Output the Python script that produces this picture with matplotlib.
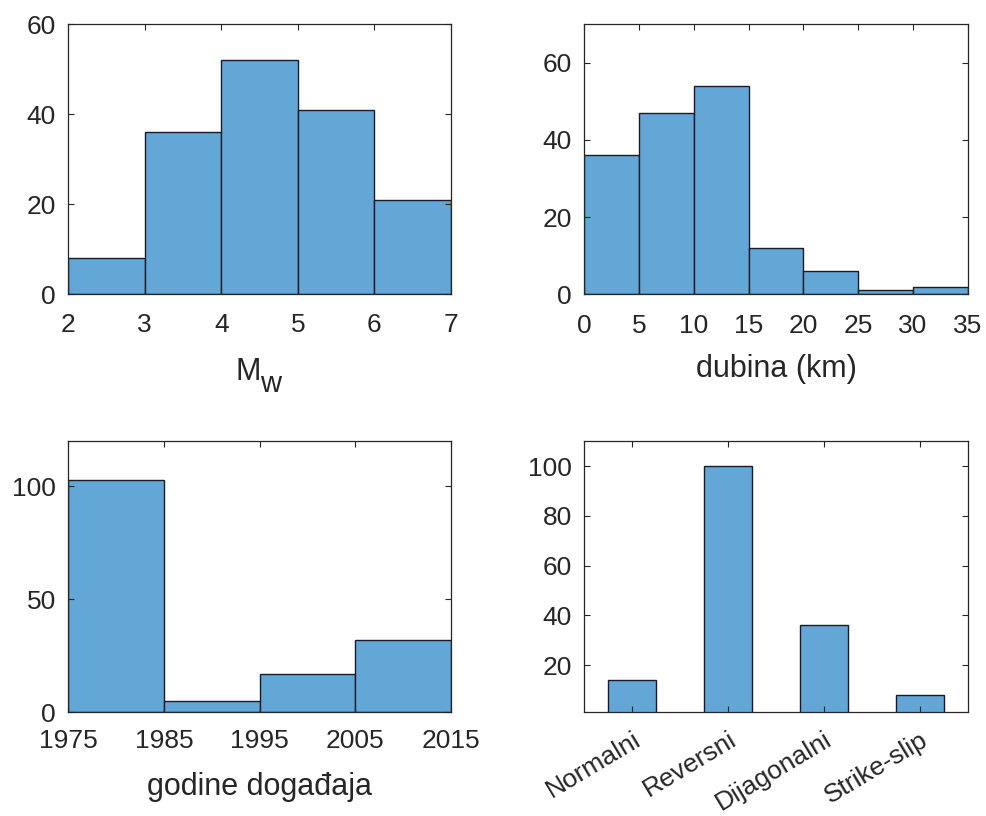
import numpy as np
import matplotlib
matplotlib.use("Agg")
import matplotlib.pyplot as plt

plt.rcParams['font.family'] = ['Liberation Sans', 'DejaVu Sans']

# Data
mw_edges = [2, 3, 4, 5, 6, 7]
mw_counts = [8, 36, 52, 41, 21]
depth_edges = [0, 5, 10, 15, 20, 25, 30, 35]
depth_counts = [36, 47, 54, 12, 6, 1, 2]
year_edges = [1975, 1985, 1995, 2005, 2015]
year_counts = [103, 5, 17, 32]
fault_types = ['Normalni', 'Reversni', 'Dijagonalni', 'Strike-slip']
fault_counts = [14, 100, 36, 8]

BAR = '#63a7d6'
TXT = '#262626'
FS = 19
LFS = 22
W, H = 986, 816

fig = plt.figure(figsize=(9.86, 8.16), dpi=100)

def style(ax, xpad=14):
    for s in ax.spines.values():
        s.set_color(TXT)
        s.set_linewidth(0.9)
    ax.tick_params(direction='in', length=4, width=0.8, colors=TXT,
                   labelsize=FS, top=True, right=True, pad=9)
    ax.tick_params(axis='x', pad=xpad)

def hist(ax, edges, counts):
    edges = np.asarray(edges, float)
    ax.bar(edges[:-1], counts, width=np.diff(edges), align='edge',
           color=BAR, edgecolor='#1a1a2a', linewidth=1.0)

ax1 = fig.add_axes([68/W, 1-294/H, 383/W, 270/H])
hist(ax1, mw_edges, mw_counts)
ax1.set_xlim(2, 7); ax1.set_ylim(0, 60)
ax1.set_xticks(mw_edges); ax1.set_yticks([0, 20, 40, 60])
style(ax1)
# x label "M" with a lowered full-size "w", as in the reference
fig.text(248/W, 1-380/H, 'M', fontsize=LFS, color=TXT, ha='center', va='baseline')
fig.text(271/W, 1-392/H, 'w', fontsize=LFS - 1, color=TXT, ha='center', va='baseline')

ax2 = fig.add_axes([584.3/W, 1-294.3/H, 383.4/W, 270.3/H])
hist(ax2, depth_edges, depth_counts)
ax2.set_xlim(0, 35); ax2.set_ylim(0, 70)
ax2.set_xticks(depth_edges); ax2.set_yticks([0, 20, 40, 60])
style(ax2)
ax2.set_xlabel('dubina (km)', fontsize=LFS, color=TXT, labelpad=12)

ax3 = fig.add_axes([68.3/W, 1-712.3/H, 382.4/W, 271/H])
hist(ax3, year_edges, year_counts)
ax3.set_xlim(1975, 2015); ax3.set_ylim(0, 120)
ax3.set_xticks(year_edges); ax3.set_yticks([0, 50, 100])
style(ax3, xpad=12)
ax3.set_xlabel('godine događaja', fontsize=LFS, color=TXT, labelpad=14)

ax4 = fig.add_axes([584.3/W, 1-712.3/H, 383.4/W, 271/H])
x = np.arange(1, len(fault_types) + 1)
ax4.bar(x, fault_counts, width=0.5, color=BAR, edgecolor='#1a1a2a', linewidth=1.0)
ax4.set_xlim(0.5, 4.5); ax4.set_ylim(1, 110)
ax4.set_yticks([20, 40, 60, 80, 100])
ax4.set_xticks(x)
style(ax4, xpad=11)
ax4.set_xticklabels(fault_types, rotation=31, ha='right', rotation_mode='anchor')

fig.savefig('out.png', dpi=100, facecolor='white')
